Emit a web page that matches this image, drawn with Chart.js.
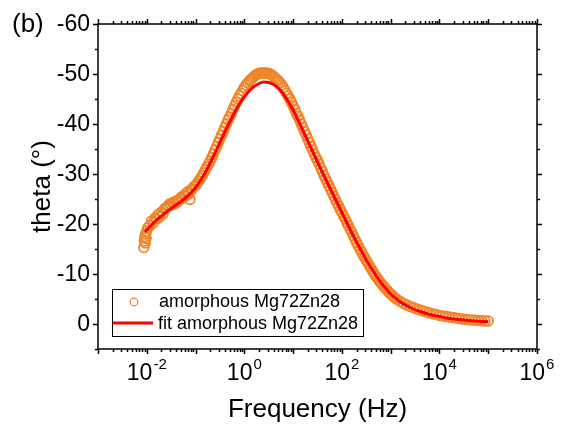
<!DOCTYPE html>
<html>
<head>
<meta charset="utf-8">
<script src="https://cdn.jsdelivr.net/npm/chart.js@4.4.1/dist/chart.umd.min.js"></script>
<style>
  body { margin: 0; background: #fff; }
</style>
</head>
<body>
<canvas id="myChart" width="564" height="425"></canvas>
<script>
// measured phase angle (orange circles)
const freqMeasured = [
  0.0087, 0.0089, 0.0091, 0.0093, 0.0095, 0.0097, 0.0100, 0.0105, 0.01166, 0.0125,
  0.01359, 0.0147, 0.01585, 0.0170, 0.01848, 0.0200, 0.02154, 0.0233, 0.02512, 0.0270,
  0.02929, 0.0316, 0.03415, 0.0370, 0.03981, 0.0430, 0.04642, 0.0500, 0.05412, 0.0585,
  0.0631, 0.0680, 0.07356, 0.0770, 0.0794, 0.08577, 0.0925,
  0.1, 0.108, 0.1166, 0.1259, 0.1359, 0.1468, 0.1585, 0.1711, 0.1848, 0.1995,
  0.2154, 0.2326, 0.2512, 0.2712, 0.2929, 0.3162, 0.3415, 0.3687, 0.3981, 0.4299,
  0.4642, 0.5012, 0.5412, 0.5843, 0.631, 0.6813, 0.7356, 0.7943, 0.8577, 0.9261,
  1, 1.08, 1.166, 1.259, 1.359, 1.468, 1.585, 1.711, 1.848, 1.995,
  2.154, 2.326, 2.512, 2.712, 2.929, 3.162, 3.415, 3.687, 3.981, 4.299,
  4.642, 5.012, 5.412, 5.843, 6.31, 6.813, 7.356, 7.943, 8.577, 9.261,
  10, 10.8, 11.66, 12.59, 13.59, 14.68, 15.85, 17.11, 18.48, 19.95,
  21.54, 23.26, 25.12, 27.12, 29.29, 31.62, 34.15, 36.87, 39.81, 42.99,
  46.42, 50.12, 54.12, 58.43, 63.1, 68.13, 73.56, 79.43, 85.77, 92.61,
  100, 108, 116.6, 125.9, 135.9, 146.8, 158.5, 171.1, 184.8, 199.5,
  215.4, 232.6, 251.2, 271.2, 292.9, 316.2, 341.5, 368.7, 398.1, 429.9,
  464.2, 501.2, 541.2, 584.3, 631, 681.3, 735.6, 794.3, 857.7, 926.1,
  1000, 1080, 1166, 1259, 1359, 1585, 1848, 2154, 2512, 2929, 3415, 3981,
  4642, 5412, 6310, 7356, 8577,
  10000, 11660, 13590, 15850, 18480, 21540, 25120, 29290, 34150, 39810,
  46420, 54120, 63100, 73560, 85770, 100000
];
const thetaMeasured = [
  -15.3, -16.6, -17.5, -16.2, -18.0, -17.2, -18.6, -19.3, -19.7, -20.6,
  -20.2, -21.2, -21.0, -21.9, -21.4, -22.4, -22.0, -23.1, -23.2, -23.6,
  -24.0, -23.8, -24.3, -24.0, -24.6, -24.4, -24.9, -25.3, -25.1, -25.8,
  -25.6, -26.4, -26.0, -24.9, -26.8, -27.0, -27.5,
  -27.7, -28.1, -28.6, -29.1, -29.6, -30.2, -30.8, -31.4, -32.0, -32.6,
  -33.3, -34.0, -34.8, -35.5, -36.3, -37.0, -37.8, -38.5, -39.3, -40.0,
  -40.8, -41.4, -42.1, -42.9, -43.6, -44.3, -45.0, -45.6, -46.1, -46.7,
  -47.3, -47.8, -48.2, -48.6, -48.9, -49.2, -49.5, -49.8, -50.0, -50.1,
  -50.2, -50.2, -50.2, -50.2, -50.2, -50.1, -50.0, -49.8, -49.5, -49.2,
  -48.9, -48.6, -48.2, -47.8, -47.3, -46.7, -46.1, -45.6, -45.0, -44.3,
  -43.6, -42.9, -42.1, -41.5, -40.8, -40.0, -39.3, -38.5, -37.8, -37.0,
  -36.3, -35.5, -34.8, -34.0, -33.3, -32.7, -32.0, -31.2, -30.5, -29.7,
  -29.0, -28.4, -27.7, -27.0, -26.3, -25.6, -24.9, -24.2, -23.6, -22.9,
  -22.3, -21.6, -21.0, -20.3, -19.7, -19.0, -18.4, -17.7, -17.0, -16.3,
  -15.7, -15.0, -14.4, -13.8, -13.3, -12.7, -12.2, -11.6, -11.1, -10.5,
  -10.0, -9.5, -9.1, -8.6, -8.2, -7.8, -7.4, -7.0, -6.7, -6.3,
  -6.0, -5.7, -5.4, -5.1, -4.9, -4.5, -4.1, -3.8, -3.5, -3.3, -3.0, -2.8,
  -2.6, -2.4, -2.2, -2.0, -1.9,
  -1.7, -1.6, -1.5, -1.4, -1.3, -1.2, -1.1, -1.0, -0.9, -0.85,
  -0.8, -0.75, -0.7, -0.65, -0.6, -0.6
];

// fitted curve (red line)
const freqFit = [
  0.00912, 0.01259, 0.01585, 0.01995, 0.02512, 0.03162, 0.03981, 0.05012, 0.0631, 0.07943,
  0.1, 0.1259, 0.1585, 0.1995, 0.2512, 0.3162, 0.3981, 0.5012, 0.631, 0.7943,
  1, 1.259, 1.585, 1.995, 2.512, 3.162, 3.981, 5.012, 6.31, 7.943,
  10, 12.59, 15.85, 19.95, 25.12, 31.62, 39.81, 50.12, 63.1, 79.43,
  100, 125.9, 158.5, 199.5, 251.2, 316.2, 398.1, 501.2, 631, 794.3,
  1000, 1585, 2512, 3981, 6310, 10000, 15850, 25120, 39810, 63100, 100000
];
const thetaFit = [
  -18.4, -19.8, -20.8, -21.6, -22.4, -23.1, -23.8, -24.5, -25.3, -26.2,
  -27.3, -28.7, -30.3, -32.2, -34.2, -36.3, -38.4, -40.4, -42.3, -44.0,
  -45.4, -46.6, -47.5, -48.1, -48.4, -48.3, -47.9, -47.1, -46.0, -44.5,
  -42.8, -40.8, -38.7, -36.6, -34.5, -32.4, -30.3, -28.3, -26.3, -24.3,
  -22.3, -20.3, -18.3, -16.4, -14.6, -12.8, -11.2, -9.7, -8.3, -7.1,
  -6.0, -4.4, -3.3, -2.5, -1.9, -1.5, -1.1, -0.9, -0.7, -0.55, -0.45
];

const yLabels = [-60, -50, -40, -30, -20, -10, 0];
const xLabelExponents = [-2, 0, 2, 4, 6];
const labelMeasured = 'amorphous Mg72Zn28';
const labelFit = 'fit amorphous Mg72Zn28';

const orange = 'rgb(239,133,40)';
const red = '#ff0000';
const FONT = '"Liberation Sans", Arial, sans-serif';

// axes frame, ticks, labels and legend drawn by hand (Origin style)
const originAxes = {
  id: 'originAxes',
  afterDatasetsDraw(chart) {
    const {ctx, chartArea: a, scales: {x, y}} = chart;
    ctx.save();
    ctx.strokeStyle = '#000';
    ctx.lineWidth = 1.5;
    ctx.strokeRect(a.left, a.top, a.right - a.left, a.bottom - a.top);

    ctx.beginPath();
    for (let v = -60; v <= 5; v += 5) {
      const py = Math.round(y.getPixelForValue(v)) + 0.5;
      const len = v % 10 === 0 ? 5 : 3;
      ctx.moveTo(a.left - len, py); ctx.lineTo(a.left, py);
      ctx.moveTo(a.right, py); ctx.lineTo(a.right + len, py);
    }
    for (let e = -3; e <= 6; e++) {
      for (let m = 1; m <= 9; m++) {
        const f = m * Math.pow(10, e);
        if (f > 1.0001e6) break;
        const px = Math.round(x.getPixelForValue(f)) + 0.5;
        const len = m === 1 ? 5 : 3;
        ctx.moveTo(px, a.bottom); ctx.lineTo(px, a.bottom + len);
        ctx.moveTo(px, a.top - len); ctx.lineTo(px, a.top);
      }
    }
    ctx.stroke();

    // y tick labels
    ctx.fillStyle = '#000';
    ctx.font = '23px ' + FONT;
    ctx.textAlign = 'right';
    ctx.textBaseline = 'middle';
    yLabels.forEach(v => {
      ctx.fillText(String(v), a.left - 8, y.getPixelForValue(v) + 1);
    });

    // x tick labels 10^n
    ctx.textBaseline = 'alphabetic';
    ctx.textAlign = 'left';
    xLabelExponents.forEach(e => {
      const px = x.getPixelForValue(Math.pow(10, e));
      ctx.font = '23px ' + FONT;
      const wBase = ctx.measureText('10').width;
      ctx.font = '15px ' + FONT;
      const expText = e < 0 ? '-' + Math.abs(e) : String(e);
      const wExp = ctx.measureText(expText).width;
      const x0 = px - (wBase + wExp + 1) / 2;
      ctx.font = '23px ' + FONT;
      ctx.fillText('10', x0, 380);
      ctx.font = '15px ' + FONT;
      ctx.fillText(expText, x0 + wBase + 1, 369);
    });

    // axis titles
    ctx.font = '26px ' + FONT;
    ctx.textAlign = 'center';
    ctx.fillText('Frequency (Hz)', (a.left + a.right) / 2, 417);
    ctx.save();
    ctx.translate(50, (a.top + a.bottom) / 2);
    ctx.rotate(-Math.PI / 2);
    ctx.fillText('theta (\u00B0)', 0, 0);
    ctx.restore();

    ctx.textAlign = 'left';
    ctx.fillText('(b)', 12, 32);

    // legend
    ctx.lineWidth = 1;
    ctx.strokeRect(112.5, 289.5, 251, 47);
    ctx.strokeStyle = orange;
    ctx.lineWidth = 1.2;
    ctx.beginPath();
    ctx.arc(134, 302, 3.8, 0, Math.PI * 2);
    ctx.stroke();
    ctx.strokeStyle = red;
    ctx.lineWidth = 3;
    ctx.beginPath();
    ctx.moveTo(113, 323); ctx.lineTo(153, 323);
    ctx.stroke();
    ctx.fillStyle = '#000';
    ctx.font = '18px ' + FONT;
    ctx.textBaseline = 'middle';
    ctx.fillText(labelMeasured, 159, 302);
    ctx.fillText(labelFit, 158, 324);
    ctx.restore();
  }
};

const ctx = document.getElementById('myChart').getContext('2d');
new Chart(ctx, {
  type: 'scatter',
  data: {
    datasets: [
      {
        label: labelMeasured,
        data: freqMeasured.map((f, i) => ({x: f, y: thetaMeasured[i]})),
        pointStyle: 'circle',
        pointRadius: 4.8,
        pointBorderWidth: 1.8,
        pointBorderColor: orange,
        pointBackgroundColor: 'rgba(0,0,0,0)',
        showLine: false,
        order: 2
      },
      {
        label: labelFit,
        data: freqFit.map((f, i) => ({x: f, y: thetaFit[i]})),
        showLine: true,
        borderColor: red,
        borderWidth: 3,
        pointRadius: 0,
        cubicInterpolationMode: 'monotone',
        order: 1
      }
    ]
  },
  options: {
    responsive: false,
    animation: false,
    devicePixelRatio: 1,
    layout: { padding: { top: 24, right: 27, left: 0, bottom: 0 } },
    plugins: { legend: { display: false }, tooltip: { enabled: false } },
    scales: {
      x: {
        type: 'logarithmic',
        min: 0.001,
        max: 1000000,
        grid: { display: false },
        border: { display: false },
        ticks: { display: false },
        afterFit(scale) { scale.height = 76; }
      },
      y: {
        type: 'linear',
        reverse: true,
        min: -60,
        max: 5,
        grid: { display: false },
        border: { display: false },
        ticks: { display: false },
        afterFit(scale) { scale.width = 98; }
      }
    }
  },
  plugins: [originAxes]
});
</script>
</body>
</html>
